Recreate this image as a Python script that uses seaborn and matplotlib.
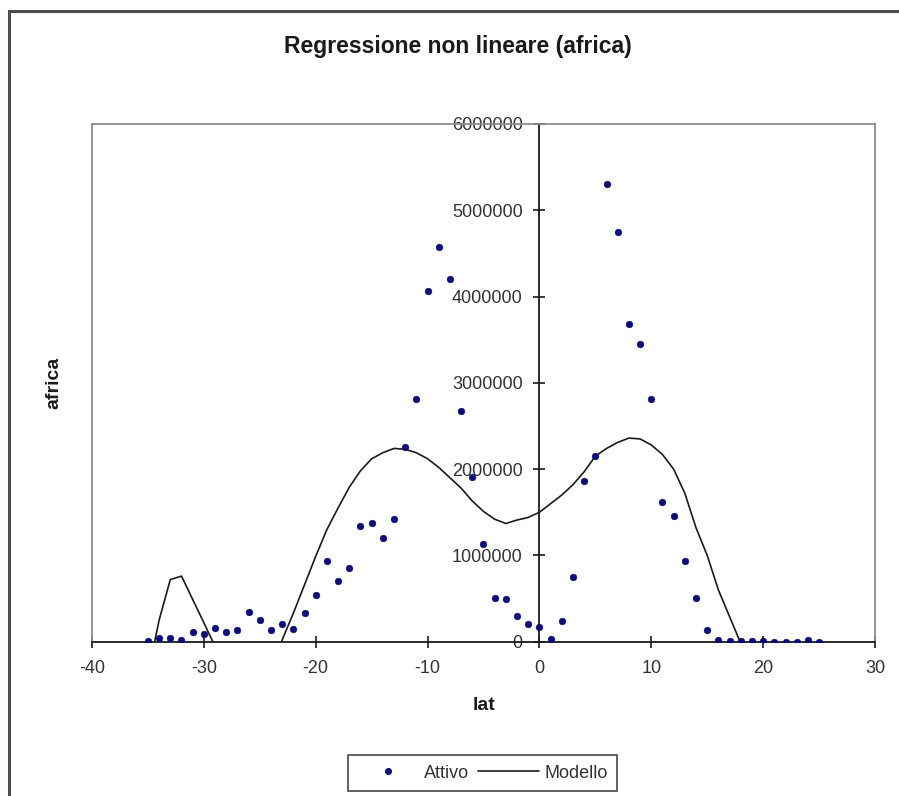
import matplotlib
matplotlib.use("Agg")
import matplotlib.pyplot as plt
import matplotlib.patches as mpatches
from matplotlib.lines import Line2D
from matplotlib.ticker import FuncFormatter, MultipleLocator
import seaborn as sns
import pandas as pd

lat = [-35, -34, -33, -32, -31, -30, -29, -28, -27, -26, -25, -24, -23, -22, -21,
       -20, -19, -18, -17, -16, -15, -14, -13, -12, -11, -10, -9, -8, -7, -6,
       -5, -4, -3, -2, -1, 0, 1, 2, 3, 4, 5, 6, 7, 8, 9,
       10, 11, 12, 13, 14, 15, 16, 17, 18, 19, 20, 21, 22, 23, 24, 25]

attivo = [10000, 40000, 45000, 25000, 115000, 90000, 155000, 110000, 130000, 350000,
          250000, 130000, 200000, 150000, 330000, 540000, 940000, 700000, 850000, 1340000,
          1370000, 1200000, 1420000, 2260000, 2810000, 4060000, 4580000, 4200000, 2670000, 1910000,
          1130000, 510000, 490000, 300000, 200000, 175000, 30000, 245000, 750000, 1860000,
          2150000, 5310000, 4750000, 3680000, 3450000, 2810000, 1620000, 1460000, 940000, 510000,
          135000, 20000, 5000, 5000, 3000, 3000, 2000, 2000, 2000, 25000, 2000]

modello = [-375000, 250000, 720000, 760000, 490000, 220000, -55000, -300000, -500000, -600000,
           -550000, -350000, 20000, 330000, 660000, 990000, 1300000, 1550000, 1790000, 1980000,
           2120000, 2190000, 2240000, 2230000, 2190000, 2120000, 2020000, 1900000, 1780000, 1630000,
           1510000, 1420000, 1370000, 1410000, 1440000, 1500000, 1600000, 1700000, 1820000, 1970000,
           2150000, 2240000, 2310000, 2360000, 2350000, 2280000, 2170000, 2000000, 1720000, 1320000,
           1000000, 600000, 290000, -20000, -400000, -800000, -1300000, -1900000, -2600000, -3400000,
           -4300000]

title = "Regressione non lineare (africa)"
x_label = "lat"
y_label = "africa"
series_names = ["Attivo", "Modello"]

df = pd.DataFrame({"lat": lat, "attivo": attivo, "modello": modello})

sns.set_style("white")
plt.rcParams["font.family"] = ["Liberation Sans", "DejaVu Sans"]
plt.rcParams["axes.unicode_minus"] = False

W, H = 899, 796
fig = plt.figure(figsize=(W / 100, H / 100), dpi=100)
fig.patch.set_facecolor("white")

left_px, right_px, top_px, bottom_px = 92, 875, 124, 641.7
ax = fig.add_axes([left_px / W, 1 - bottom_px / H, (right_px - left_px) / W, (bottom_px - top_px) / H])

sns.lineplot(data=df, x="lat", y="modello", ax=ax, color="#1a1a1a", linewidth=1.2,
             sort=True, estimator=None, legend=False)
sns.scatterplot(data=df, x="lat", y="attivo", ax=ax, color="#0a0a78", s=24,
                marker="o", edgecolor="#0a0a78", linewidth=0.3, legend=False, zorder=3)

ax.set_xlim(-40, 30)
ax.set_ylim(0, 6000000)
ax.xaxis.set_major_locator(MultipleLocator(10))
ax.yaxis.set_major_locator(MultipleLocator(1000000))
ax.yaxis.set_major_formatter(FuncFormatter(lambda v, p: f"{int(round(v))}"))

# y axis crossing at x = 0
ax.spines["left"].set_position(("data", 0))
ax.spines["left"].set_color("#1a1a1a")
ax.spines["left"].set_linewidth(1.3)
ax.spines["bottom"].set_color("#1a1a1a")
ax.spines["bottom"].set_linewidth(1.3)
for s in ["top", "right"]:
    ax.spines[s].set_color("#8c8c8c")
    ax.spines[s].set_linewidth(1.3)
# gray left border of plot area
ax.plot([0, 0], [0, 1], transform=ax.transAxes, color="#8c8c8c", lw=1.3, clip_on=False)

ax.tick_params(axis="both", direction="inout", length=8, width=1.2, color="#1a1a1a",
               labelsize=13, labelcolor="#333333")
ax.tick_params(axis="y", pad=8)
ax.tick_params(axis="x", pad=9)
ax.tick_params(left=True, bottom=True)

ax.set_xlabel(x_label, fontsize=14, fontweight="bold", color="#1a1a1a")
ax.set_ylabel(y_label, fontsize=14, fontweight="bold", color="#1a1a1a")
ax.xaxis.set_label_coords(0.5, -0.107)
ax.yaxis.set_label_coords((62 - left_px) / (right_px - left_px), 0.5)

fig.text(458 / W, 1 - 47 / H, title, ha="center", va="center", fontsize=16.5,
         fontweight="bold", color="#1a1a1a")

# outer chart frame (left and top visible, rest cropped)
fig.add_artist(mpatches.Rectangle((9 / W, -0.05), 1.2, 1 - 11 / H + 0.05,
                                  transform=fig.transFigure, fill=False,
                                  edgecolor="#4d4d4d", linewidth=2.2, clip_on=False))

handles = [Line2D([], [], marker="o", linestyle="none", color="#0a0a78", markersize=4),
           Line2D([], [], color="#1a1a1a", linewidth=1.2)]
leg = fig.legend(handles, series_names, loc="center", bbox_to_anchor=(482.5 / W, 1 - 773 / H),
                 ncol=2, frameon=True, fancybox=False, edgecolor="#1a1a1a", fontsize=13,
                 handlelength=3.4, columnspacing=0.5, handletextpad=0.3, borderpad=0.5,
                 borderaxespad=0)
leg.get_frame().set_linewidth(1.2)
for t in leg.get_texts():
    t.set_color("#333333")

fig.savefig("out.png", dpi=100, facecolor="white")
